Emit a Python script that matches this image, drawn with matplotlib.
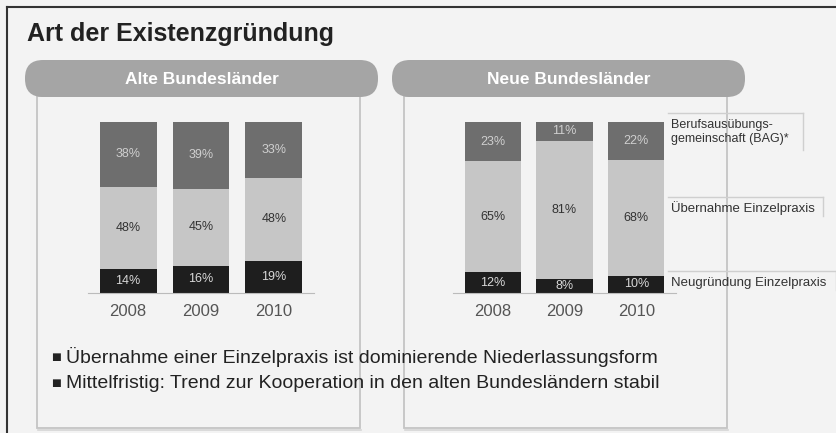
import matplotlib
matplotlib.use("Agg")
import matplotlib.pyplot as plt
from matplotlib.patches import FancyBboxPatch, Rectangle
import numpy as np

plt.rcParams["font.family"] = ["Liberation Sans", "DejaVu Sans"]

# --- Data ---
years = ["2008", "2009", "2010"]
alte_neu = [14, 16, 19]      # Neugründung Einzelpraxis
alte_ueb = [48, 45, 48]      # Übernahme Einzelpraxis
alte_bag = [38, 39, 33]      # Berufsausübungsgemeinschaft
neue_neu = [12, 8, 10]
neue_ueb = [65, 81, 68]
neue_bag = [23, 11, 22]

panel_titles = ["Alte Bundesländer", "Neue Bundesländer"]
legend_labels = ["Berufsausübungs-\ngemeinschaft (BAG)*", "Übernahme Einzelpraxis", "Neugründung Einzelpraxis"]
bullets = [
    "Übernahme einer Einzelpraxis ist dominierende Niederlassungsform",
    "Mittelfristig: Trend zur Kooperation in den alten Bundesländern stabil",
]

BG = "#f3f3f3"
C_BAG = "#6e6e6e"
C_UEB = "#c6c6c6"
C_NEU = "#1e1e1e"

W, H = 836, 433
fig = plt.figure(figsize=(W / 100, H / 100), dpi=100, facecolor=BG)

# --- background layer in pixel coordinates ---
bg = fig.add_axes([0, 0, 1, 1])
bg.set_xlim(0, W)
bg.set_ylim(H, 0)
bg.axis("off")
bg.set_facecolor(BG)

# outer frame
bg.plot([7, W], [7, 7], color="#333333", lw=1.5)
bg.plot([7, 7], [7, H], color="#333333", lw=1.5)

bg.text(27, 34, "Art der Existenzgründung", fontsize=18, fontweight="bold",
        color="#222222", va="center", ha="left")

# panels
for (px0, px1, hx0, hx1), title in zip([(37, 360, 25, 378), (404, 727, 392, 745)], panel_titles):
    bg.add_patch(Rectangle((px0, 96), px1 - px0, 428 - 96, fill=False,
                           edgecolor="#c4c4c4", lw=1.3))
    bg.plot([px0 + 1, px1 + 1], [429.5, 429.5], color="#d6d6d6", lw=1.2)
    bg.add_patch(FancyBboxPatch((hx0, 60), hx1 - hx0, 37,
                                boxstyle="round,pad=0,rounding_size=18",
                                facecolor="#a5a5a5", edgecolor="none"))
    bg.text((hx0 + hx1) / 2, 79, title, fontsize=12.5, fontweight="bold",
            color="white", ha="center", va="center")

# legend boxes (top + right lines)
for (y0, x1, y1) in [(113, 803, 150), (197, 823, 216), (271, 836, 290)]:
    bg.plot([668, x1], [y0, y0], color="#cfcfcf", lw=1)
    bg.plot([x1, x1], [y0, y1], color="#cfcfcf", lw=1)

bg.text(671, 132, legend_labels[0], fontsize=9, color="#333333", va="center",
        ha="left", linespacing=1.2)
bg.text(671, 208, legend_labels[1], fontsize=9.5, color="#333333", va="center", ha="left")
bg.text(671, 283, legend_labels[2], fontsize=9.5, color="#333333", va="center", ha="left")

# bullets
for y, txt in zip([357, 383], bullets):
    bg.text(51, y, "■", fontsize=7.5, color="#222222", va="center", ha="left",
            family=["DejaVu Sans"])
    bg.text(66, y, txt, fontsize=14, color="#222222", va="center", ha="left")


# --- stacked bars ---
def draw_bars(left_px, width_px, neu, ueb, bag):
    ax = fig.add_axes([left_px / W, (H - 293) / H, width_px / W, 171 / H])
    ax.set_facecolor("none")
    x = np.arange(len(years))
    bw = 0.78
    neu = np.array(neu)
    ueb = np.array(ueb)
    bag = np.array(bag)
    ax.bar(x, neu, bw, color=C_NEU)
    ax.bar(x, ueb, bw, bottom=neu, color=C_UEB)
    ax.bar(x, bag, bw, bottom=neu + ueb, color=C_BAG)
    for i in range(len(x)):
        ax.text(x[i], neu[i] / 2, f"{neu[i]}%", ha="center", va="center",
                fontsize=9, color="#d8d8d8")
        ax.text(x[i], neu[i] + ueb[i] / 2, f"{ueb[i]}%", ha="center", va="center",
                fontsize=9, color="#333333")
        ax.text(x[i], neu[i] + ueb[i] + bag[i] / 2, f"{bag[i]}%", ha="center",
                va="center", fontsize=9, color="#cfcfcf")
    ax.set_xlim(-0.55, 2.55)
    ax.set_ylim(0, 100)
    for s in ["top", "right", "left"]:
        ax.spines[s].set_visible(False)
    ax.spines["bottom"].set_color("#bbbbbb")
    ax.set_yticks([])
    ax.set_xticks(x)
    ax.set_xticklabels(years, fontsize=12, color="#555555")
    ax.tick_params(axis="x", length=0, pad=8)
    return ax


draw_bars(88, 226, alte_neu, alte_ueb, alte_bag)
draw_bars(453, 223, neue_neu, neue_ueb, neue_bag)

fig.savefig("out.png", dpi=100, facecolor=BG)
